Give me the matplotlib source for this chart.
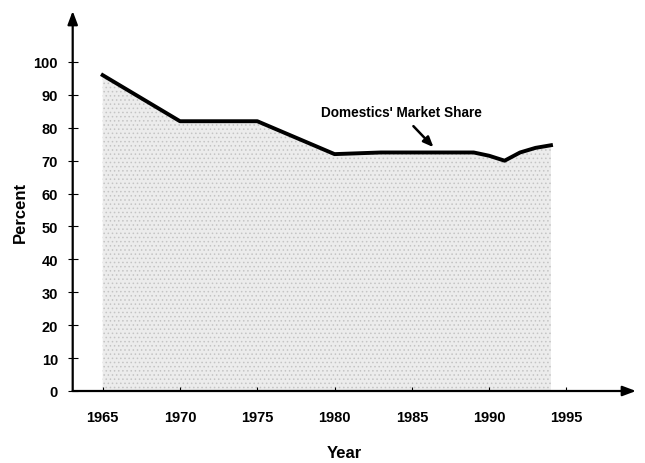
import matplotlib
matplotlib.use("Agg")
import matplotlib.pyplot as plt
from matplotlib import font_manager

years = [1965, 1970, 1975, 1980, 1983, 1985, 1989, 1990, 1991, 1992, 1993, 1994]
share = [96, 82, 82, 72, 72.5, 72.5, 72.5, 71.5, 70, 72.5, 73.9, 74.7]
x_ticks = [1965, 1970, 1975, 1980, 1985, 1990, 1995]
y_ticks = [0, 10, 20, 30, 40, 50, 60, 70, 80, 90, 100]

names = {f.name for f in font_manager.fontManager.ttflist}
fam = ['Liberation Sans Narrow', 'DejaVu Sans'] if 'Liberation Sans Narrow' in names else ['Liberation Sans', 'DejaVu Sans']
plt.rcParams['font.family'] = fam
plt.rcParams['font.weight'] = 'bold'
plt.rcParams['hatch.color'] = '#b0b0b0'
plt.rcParams['hatch.linewidth'] = 0.6

W, H = 645, 464
fig = plt.figure(figsize=(W / 100, H / 100), dpi=100)
left, right, top, bottom = 72.7, 636, 12, 392
ax = fig.add_axes([left / W, (H - bottom) / H, (right - left) / W, (bottom - top) / H])
ax.set_xlim(1963.06, 1999.5)
ax.set_ylim(0, 115.5)

ax.fill_between(years, share, 0, facecolor='#ececec', edgecolor='#c4c4c4', hatch='....', linewidth=0)
ax.plot(years, share, color='black', linewidth=2.8, solid_joinstyle='round')

for s in ax.spines.values():
    s.set_visible(False)
ax.annotate('', xy=(1, 0), xytext=(0, 0), xycoords='axes fraction',
            arrowprops=dict(arrowstyle='-|>,head_length=0.8,head_width=0.3', color='black', lw=1.6, shrinkA=0, shrinkB=0))
ax.annotate('', xy=(0, 1), xytext=(0, 0), xycoords='axes fraction',
            arrowprops=dict(arrowstyle='-|>,head_length=0.8,head_width=0.3', color='black', lw=1.6, shrinkA=0, shrinkB=0))

ax.set_xticks(x_ticks)
ax.set_xticklabels([str(v) for v in x_ticks])
ax.set_yticks(y_ticks)
ax.set_yticklabels([str(v) for v in y_ticks])
ax.tick_params(axis='y', direction='inout', length=7, width=0.8, pad=7, labelsize=10.5)
ax.tick_params(axis='x', direction='in', length=3, width=0.8, pad=14, labelsize=10.5)

fig.text(344.5 / W, 1 - 454 / H, 'Year', ha='center', va='center', fontsize=12, fontweight='bold')
fig.text(20 / W, 1 - 212.5 / H, 'Percent', ha='center', va='center', rotation=90, fontsize=12, fontweight='bold')

ax.text(1984.3, 84.7, "Domestics' Market Share", ha='center', va='center', fontsize=9.8, fontweight='bold')
ax.annotate('', xy=(1986.4, 74.1), xytext=(1985.1, 80.5),
            arrowprops=dict(arrowstyle='-|>,head_length=0.6,head_width=0.25', color='black', lw=1.8,
                            shrinkA=0, shrinkB=0))

fig.savefig('out.png', dpi=100)
